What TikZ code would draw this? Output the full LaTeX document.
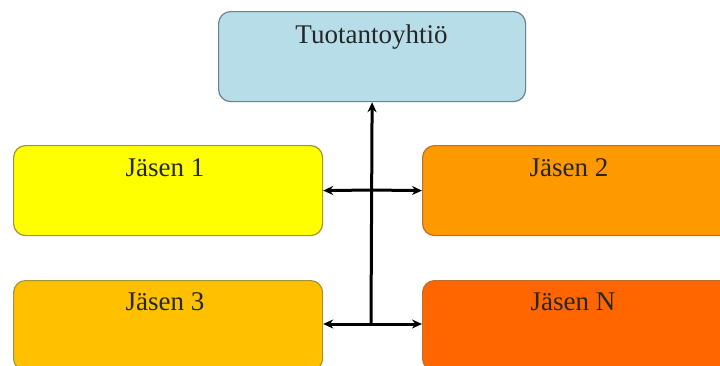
\documentclass[tikz,border=0pt]{standalone}
\usepackage{fontspec}
\setmainfont{Liberation Serif}
\usetikzlibrary{arrows.meta}
\definecolor{topfill}{RGB}{183,221,232}
\definecolor{topdraw}{RGB}{110,130,140}
\definecolor{yelfill}{RGB}{255,255,0}
\definecolor{yeldraw}{RGB}{160,150,50}
\definecolor{orafill}{RGB}{255,153,0}
\definecolor{goldfill}{RGB}{255,192,0}
\definecolor{redfill}{RGB}{255,102,0}
\definecolor{oradraw}{RGB}{190,110,40}
\tikzset{
  box/.style={rounded corners=12pt, line width=1.2pt, minimum width=#1, minimum height=90pt, anchor=north west, inner sep=0pt},
  lbl/.style={font=\fontsize{27}{30}\selectfont, text=black!85},
  conn/.style={line width=3pt, -{Stealth[length=10pt,width=9pt]}}
}
\begin{document}
\begin{tikzpicture}[x=1pt,y=-1pt]
\useasboundingbox (0,0) rectangle (720,365);
\clip (0,0) rectangle (720,365);
\node[box=307pt, draw=topdraw, fill=topfill] (top) at (218,11) {};
\node[lbl, anchor=base] at (371.5,43) {Tuotantoyhtiö};
\node[box=309pt, draw=yeldraw, fill=yelfill] (j1) at (13,145) {};
\node[lbl, anchor=base] at (165,176) {Jäsen 1};
\node[box=312pt, draw=oradraw, fill=orafill] (j2) at (422,145) {};
\node[lbl, anchor=base] at (569,176) {Jäsen 2};
\node[box=309pt, draw=yeldraw, fill=goldfill] (j3) at (13,280) {};
\node[lbl, anchor=base] at (165,310) {Jäsen 3};
\node[box=312pt, draw=oradraw, fill=redfill] (jn) at (422,280) {};
\node[lbl, anchor=base] at (573,310) {Jäsen N};
\coordinate (c1) at (371,190);
\coordinate (c2) at (371,324);
\draw[conn] (c2) -- (top.south);
\draw[conn] (c1) -- (j1.east);
\draw[conn] (c1) -- (j2.west);
\draw[conn] (c2) -- (j3.east |- c2);
\draw[conn] (c2) -- (jn.west |- c2);
\end{tikzpicture}
\end{document}
